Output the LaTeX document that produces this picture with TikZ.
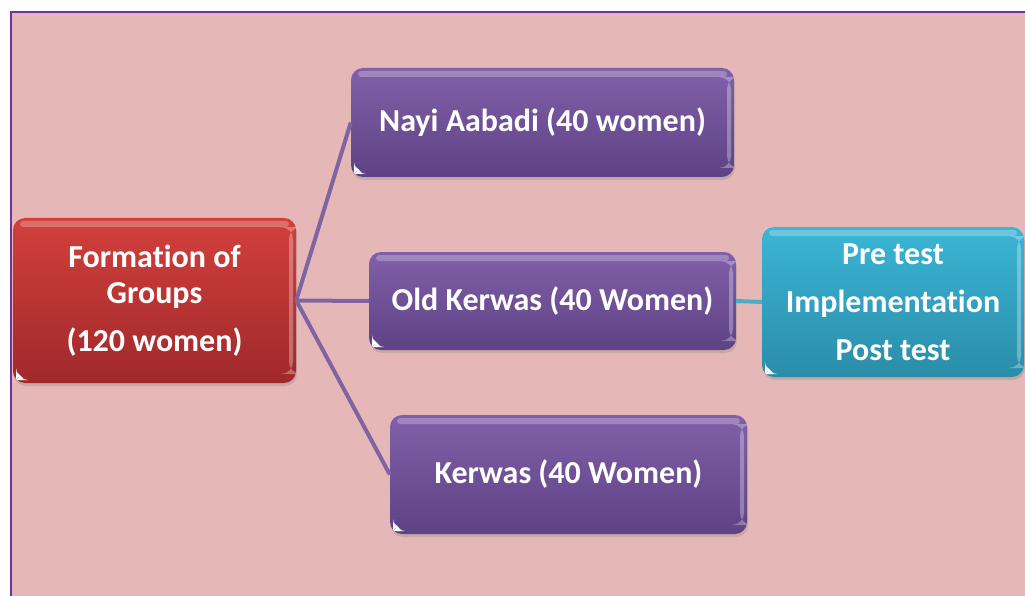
\documentclass[tikz,border=0pt]{standalone}
\usepackage{fontspec}
\setmainfont{Carlito}[Ligatures=NoCommon]
\usetikzlibrary{shadows}
\definecolor{bgpink}{HTML}{E5B8B7}
\definecolor{frameviolet}{HTML}{7030A0}
\definecolor{linkviolet}{HTML}{8064A2}
\definecolor{linkcyan}{HTML}{4BACC6}
\definecolor{grouptop}{HTML}{D2403C}
\definecolor{groupbottom}{HTML}{A0292A}
\definecolor{sitetop}{HTML}{8160A9}
\definecolor{sitebottom}{HTML}{5E4285}
\definecolor{steptop}{HTML}{3BB5D6}
\definecolor{stepbottom}{HTML}{2A8DA8}

\begin{document}
\begin{tikzpicture}[
        x=1pt,
        y=-1pt,
        every node/.style={font=\bfseries\fontsize{32}{36}\selectfont, text=white, align=center},
        gloss/.style={path picture={
                \fill[white, opacity=.25, rounded corners=3pt]
                    ([xshift=7pt, yshift=-3pt]path picture bounding box.north west) rectangle
                    ([xshift=-7pt, yshift=-9pt]path picture bounding box.north east);
                \fill[white, opacity=.3]
                    ([xshift=-7pt, yshift=-9pt]path picture bounding box.north east) rectangle
                    ([xshift=-3pt, yshift=9pt]path picture bounding box.south east);
                \fill[white]
                    ([xshift=3pt, yshift=3pt]path picture bounding box.south west) -- ++(9pt,0pt) -- ++(-9pt,9pt) -- cycle;
            }},
        box/.style={rounded corners=12pt, inner sep=0pt, gloss,
                drop shadow={opacity=.3, shadow xshift=1pt, shadow yshift=-3pt}},
        groupbox/.style={box, top color=grouptop, bottom color=groupbottom},
        sitebox/.style={box, top color=sitetop, bottom color=sitebottom},
        stepbox/.style={box, top color=steptop, bottom color=stepbottom,
                font=\bfseries\fontsize{32}{48}\selectfont},
        link/.style={draw=linkviolet, line width=4pt},
        steplink/.style={draw=linkcyan, line width=4pt}
    ]
    \useasboundingbox (0,0) rectangle (1025,596);
    \fill[bgpink] (11,12) rectangle (1025,596);
    \draw[frameviolet, line width=1.5pt] (11,596) -- (11,12) -- (1025,12);

    \node[groupbox, minimum width=283pt, minimum height=165pt] (grp) at (154.5,300.5) {Formation of\\Groups\\[12pt](120 women)};
    \node[sitebox, minimum width=383pt, minimum height=109pt] (nayi) at (542.5,122.5) {Nayi Aabadi (40 women)};
    \node[sitebox, minimum width=367pt, minimum height=98pt] (old) at (552.5,301) {Old Kerwas (40 Women)};
    \node[sitebox, minimum width=357pt, minimum height=119pt] (kerwas) at (568.5,474.5) {Kerwas (40 Women)};
    \node[stepbox, minimum width=262pt, minimum height=150pt] (steps) at (893,302) {Pre test\\Implementation\\Post test};

    \draw[link] (grp.east) -- (nayi.west);
    \draw[link] (grp.east) -- (old.west);
    \draw[link] (grp.east) -- (kerwas.west);
    \draw[steplink] (old.east) -- (steps.west);
\end{tikzpicture}
\end{document}
